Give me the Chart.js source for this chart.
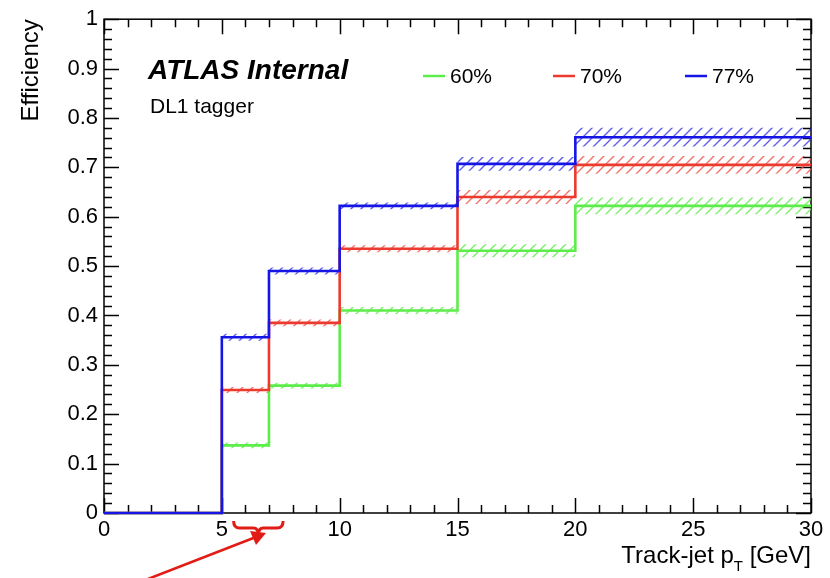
<!DOCTYPE html>
<html>
<head>
<meta charset="utf-8">
<script src="https://cdn.jsdelivr.net/npm/chart.js@4.4.1/dist/chart.umd.min.js"></script>
<style>
  html, body { margin: 0; padding: 0; background: #fff; }
</style>
</head>
<body>
<canvas id="myChart" width="830" height="578"></canvas>
<script>
// bin edges of the track-jet pT histogram [GeV]
var binEdges = [0, 5, 7, 10, 15, 20, 30];

// b-tagging efficiency per bin for each working point
var eff60 = [0, 0.137, 0.258, 0.410, 0.531, 0.622];
var eff70 = [0, 0.249, 0.385, 0.535, 0.640, 0.705];
var eff77 = [0, 0.356, 0.490, 0.622, 0.707, 0.761];

// uncertainty per bin (hatched bands)
var err60 = [0, 0.006, 0.006, 0.007, 0.013, 0.017];
var err70 = [0, 0.006, 0.007, 0.007, 0.014, 0.018];
var err77 = [0, 0.007, 0.007, 0.007, 0.014, 0.019];

var seriesLabels = ['60%', '70%', '77%'];
var xTicks = [0, 5, 10, 15, 20, 25, 30];

var green = '#5ced4a', red = '#ec3a2e', blue = '#1515e6';
var greenHatch = 'rgba(100,235,80,0.85)', redHatch = 'rgba(236,80,70,0.8)', blueHatch = 'rgba(40,40,230,0.75)';

// histogram as step line: point at each lower edge carries the bin value,
// last value repeated at the upper edge
function histPoints(vals, errs, sign) {
  return binEdges.map(function(x, i) {
    var k = Math.min(i, vals.length - 1);
    return { x: x, y: vals[k] + sign * (errs ? errs[k] : 0) };
  });
}

function hatch(color) {
  var s = 10;
  var c = document.createElement('canvas');
  c.width = s; c.height = s;
  var g = c.getContext('2d');
  g.strokeStyle = color;
  g.lineWidth = 1.4;
  g.beginPath();
  g.moveTo(0, s); g.lineTo(s, 0);
  g.moveTo(-1, 1); g.lineTo(1, -1);
  g.moveTo(s - 1, s + 1); g.lineTo(s + 1, s - 1);
  g.stroke();
  return document.getElementById('myChart').getContext('2d').createPattern(c, 'repeat');
}

function lineSet(label, vals, color, order) {
  return {
    label: label, data: histPoints(vals, null, 0), stepped: 'before',
    borderColor: color, borderWidth: 2.6, pointRadius: 0, fill: false,
    clip: 4, order: order
  };
}
function bandSets(vals, errs, hatchColor, order) {
  return [{
    label: 'up', data: histPoints(vals, errs, 1), stepped: 'before',
    borderWidth: 0, borderColor: 'rgba(0,0,0,0)', pointRadius: 0,
    backgroundColor: hatch(hatchColor), fill: '+1', order: order
  }, {
    label: 'down', data: histPoints(vals, errs, -1), stepped: 'before',
    borderWidth: 0, borderColor: 'rgba(0,0,0,0)', pointRadius: 0,
    fill: false, order: order
  }];
}

var datasets = [
  lineSet(seriesLabels[2], eff77, blue, 1),
  lineSet(seriesLabels[1], eff70, red, 2),
  lineSet(seriesLabels[0], eff60, green, 3)
].concat(bandSets(eff77, err77, blueHatch, 10))
 .concat(bandSets(eff70, err70, redHatch, 11))
 .concat(bandSets(eff60, err60, greenHatch, 12));

var fontFam = "'Liberation Sans', Arial, Helvetica, sans-serif";

// ROOT style frame with inward ticks on all four sides
var frame = {
  id: 'frame',
  beforeDatasetsDraw: function(chart) {
    var ctx = chart.ctx, a = chart.chartArea, xs = chart.scales.x, ys = chart.scales.y;
    ctx.save();
    ctx.strokeStyle = '#000';
    ctx.lineWidth = 1.5;
    ctx.strokeRect(a.left, a.top, a.right - a.left, a.bottom - a.top);
    ctx.beginPath();
    for (var i = 0; i <= 50; i++) {
      var py = Math.round(ys.getPixelForValue(i / 50)) + 0.5;
      var len = i % 5 === 0 ? 15 : 8;
      ctx.moveTo(a.left, py); ctx.lineTo(a.left + len, py);
      ctx.moveTo(a.right, py); ctx.lineTo(a.right - len, py);
    }
    for (var j = 0; j <= 30; j++) {
      var px = Math.round(xs.getPixelForValue(j)) + 0.5;
      var l2 = j % 5 === 0 ? 15 : 8;
      ctx.moveTo(px, a.bottom); ctx.lineTo(px, a.bottom - l2);
      ctx.moveTo(px, a.top); ctx.lineTo(px, a.top + l2);
    }
    ctx.stroke();
    ctx.restore();
  },
  afterDraw: function(chart) {
    var ctx = chart.ctx, a = chart.chartArea;
    ctx.save();
    ctx.fillStyle = '#000';
    // axis titles
    ctx.textBaseline = 'alphabetic';
    ctx.font = '24px ' + fontFam;
    var part1 = 'Track-jet p', part3 = ' [GeV]';
    ctx.textAlign = 'left';
    var w3 = ctx.measureText(part3).width;
    ctx.font = '15px ' + fontFam;
    var w2 = ctx.measureText('T').width;
    ctx.font = '24px ' + fontFam;
    var w1 = ctx.measureText(part1).width;
    var x0 = a.right - w1 - w2 - w3;
    ctx.fillText(part1, x0, 563);
    ctx.fillText(part3, x0 + w1 + w2, 563);
    ctx.font = '15px ' + fontFam;
    ctx.fillText('T', x0 + w1, 571);

    ctx.save();
    ctx.translate(38, a.top);
    ctx.rotate(-Math.PI / 2);
    ctx.font = '24px ' + fontFam;
    ctx.textAlign = 'right';
    ctx.fillText('Efficiency', 0, 0);
    ctx.restore();

    // labels inside the frame
    ctx.textAlign = 'left';
    ctx.textBaseline = 'middle';
    ctx.font = 'italic bold 28px ' + fontFam;
    ctx.fillText('ATLAS Internal', 148, 71);
    ctx.font = '21px ' + fontFam;
    ctx.fillText('DL1 tagger', 150, 107);

    // legend
    var legX = [423, 553, 685];
    var cols = [green, red, blue];
    ctx.font = '21px ' + fontFam;
    for (var k = 0; k < 3; k++) {
      ctx.strokeStyle = cols[k];
      ctx.lineWidth = 2.5;
      ctx.beginPath();
      ctx.moveTo(legX[k], 76); ctx.lineTo(legX[k] + 22, 76);
      ctx.stroke();
      ctx.fillText(seriesLabels[k], legX[k] + 27, 77);
    }

    // red annotation: brace under the 5-7 GeV bin and arrow
    var xs = chart.scales.x;
    var bl = xs.getPixelForValue(5.5), br = xs.getPixelForValue(7.6), bm = (bl + br) / 2;
    ctx.strokeStyle = '#e21b14';
    ctx.lineWidth = 3;
    ctx.beginPath();
    ctx.moveTo(bl, 521);
    ctx.quadraticCurveTo(bl, 528, bl + 6, 528);
    ctx.lineTo(bm - 5, 528);
    ctx.quadraticCurveTo(bm, 528, bm, 535);
    ctx.quadraticCurveTo(bm, 528, bm + 5, 528);
    ctx.lineTo(br - 6, 528);
    ctx.quadraticCurveTo(br, 528, br, 521);
    ctx.stroke();

    ctx.lineWidth = 2.5;
    ctx.beginPath();
    ctx.moveTo(148, 579);
    ctx.lineTo(256, 537);
    ctx.stroke();
    ctx.fillStyle = '#e21b14';
    ctx.beginPath();
    ctx.moveTo(266, 533);
    ctx.lineTo(250, 531);
    ctx.lineTo(256, 545);
    ctx.closePath();
    ctx.fill();
    ctx.restore();
  }
};

var ctx = document.getElementById('myChart').getContext('2d');
var chart = new Chart(ctx, {
  type: 'line',
  data: { datasets: datasets },
  options: {
    responsive: false,
    animation: false,
    events: [],
    layout: { padding: { left: 0, top: 18, right: 19, bottom: 0 } },
    plugins: { legend: { display: false }, tooltip: { enabled: false } },
    scales: {
      x: {
        type: 'linear', min: 0, max: 30,
        border: { display: false },
        grid: { display: false, drawTicks: false },
        afterBuildTicks: function(s) { s.ticks = xTicks.map(function(v) { return { value: v }; }); },
        afterFit: function(s) { s.height = 65; },
        ticks: {
          autoSkip: false, maxRotation: 0, padding: 4, color: '#000',
          font: { size: 22, family: fontFam }
        }
      },
      y: {
        type: 'linear', min: 0, max: 1,
        border: { display: false },
        grid: { display: false, drawTicks: false },
        afterFit: function(s) { s.width = 104; },
        ticks: {
          stepSize: 0.1, padding: 6, color: '#000',
          font: { size: 22, family: fontFam },
          callback: function(v) { return String(Math.round(v * 10) / 10); }
        }
      }
    }
  },
  plugins: [frame]
});
</script>
</body>
</html>
